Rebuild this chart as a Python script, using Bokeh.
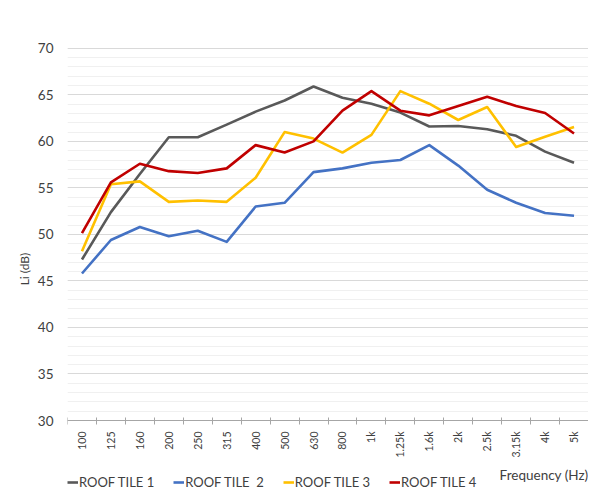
import math

from bokeh.plotting import figure
from bokeh.models import (Range1d, FixedTicker, Legend, LegendItem, Label)
from bokeh.embed import file_html
from bokeh.resources import INLINE

# 1/3 octave bands
freqs = ['100', '125', '160', '200', '250', '315', '400', '500', '630',
         '800', '1k', '1.25k', '1.6k', '2k', '2.5k', '3.15k', '4k', '5k']

# Li (dB)
tile1 = [47.3, 52.4, 56.5, 60.45, 60.45, 61.8, 63.2, 64.4, 65.9,
         64.7, 64.05, 63.1, 61.6, 61.65, 61.3, 60.6, 58.9, 57.7]
tile2 = [45.8, 49.4, 50.8, 49.8, 50.4, 49.2, 53.0, 53.4, 56.7,
         57.1, 57.7, 58.0, 59.6, 57.4, 54.8, 53.4, 52.3, 52.0]
tile3 = [48.2, 55.4, 55.7, 53.5, 53.65, 53.5, 56.1, 61.0, 60.3,
         58.8, 60.7, 65.4, 64.05, 62.3, 63.7, 59.4, 60.5, 61.55]
tile4 = [50.15, 55.6, 57.6, 56.8, 56.6, 57.1, 59.6, 58.8, 60.0,
         63.3, 65.4, 63.3, 62.8, 63.8, 64.8, 63.8, 63.05, 60.85]

names = ['ROOF TILE 1', 'ROOF TILE  2', 'ROOF TILE 3', 'ROOF TILE 4']
colors = ['#595959', '#4472C4', '#FFC000', '#C00000']

y_ticks = [30, 35, 40, 45, 50, 55, 60, 65, 70]

FONT = 'Lato'
TXT = '#404040'

# category centres, ticks sit between categories
xs = [i + 0.5 for i in range(len(freqs))]

# the frame runs down to the bottom of the canvas so that the axis
# labels, the axis title and the legend live inside it
FRAME_H = 445
PX_PER_DB = 374 / 40.2
y_top = 70.2
y_bot = y_top - FRAME_H / PX_PER_DB

p = figure(frame_width=521, frame_height=FRAME_H,
           min_border_left=67, min_border_right=0, min_border_top=46,
           min_border_bottom=0,
           x_range=Range1d(0, len(freqs)), y_range=Range1d(y_bot, y_top),
           output_backend="svg", toolbar_location=None,
           outline_line_color=None)

# lignes
items = []
for name, col, ys in zip(names, colors, [tile1, tile2, tile3, tile4]):
    r = p.line(xs, ys, line_color=col, line_width=2.6, line_join='round')
    items.append(LegendItem(label=name, renderers=[r]))

# axe x, fixed on the 30 dB line
xa = p.xaxis[0]
xa.fixed_location = y_ticks[0]
xa.ticker = FixedTicker(ticks=xs, minor_ticks=list(range(len(freqs) + 1)))
xa.major_label_overrides = {x: f for x, f in zip(xs, freqs)}
xa.major_label_orientation = math.pi / 2
xa.major_tick_out = 0
xa.major_tick_in = 0
xa.minor_tick_out = 4
xa.minor_tick_in = 3
xa.minor_tick_line_color = '#a6a6a6'
xa.axis_line_color = '#a6a6a6'
xa.major_label_standoff = 7
xa.major_label_text_font = FONT
xa.major_label_text_font_size = '10.5px'
xa.major_label_text_color = TXT

# axe y
ya = p.yaxis[0]
ya.ticker = FixedTicker(ticks=y_ticks,
                        minor_ticks=list(range(y_ticks[0], y_ticks[-1] + 1)))
ya.bounds = (28, y_ticks[-1])
ya.axis_line_color = None
ya.major_tick_line_color = None
ya.minor_tick_line_color = None
ya.major_tick_out = 0
ya.major_tick_in = 0
ya.minor_tick_out = 0
ya.major_label_standoff = 14
ya.major_label_text_font = FONT
ya.major_label_text_font_size = '13.5px'
ya.major_label_text_color = TXT
ya.axis_label = 'Li (dB)'
ya.axis_label_text_font = FONT
ya.axis_label_text_font_size = '12px'
ya.axis_label_text_font_style = 'normal'
ya.axis_label_text_color = TXT
ya.axis_label_standoff = 3

p.xgrid.grid_line_color = None
p.ygrid.grid_line_color = '#d9d9d9'
p.ygrid.minor_grid_line_color = '#f0f0f0'

# titre de l'axe x, à droite
p.add_layout(Label(x=len(freqs), y=24.1, text='Frequency (Hz)',
                   text_align='right', text_baseline='middle',
                   text_font=FONT, text_font_size='13.5px',
                   text_color=TXT))

leg = Legend(items=items, orientation='horizontal', location=(0, 1),
             label_text_font=FONT, label_text_font_size='13px',
             label_text_color=TXT, glyph_width=11, glyph_height=12,
             label_height=12, label_standoff=1, spacing=19, padding=0,
             margin=0, border_line_color=None, background_fill_alpha=0)
p.add_layout(leg)

open("out.html", "w").write(file_html(p, INLINE))
